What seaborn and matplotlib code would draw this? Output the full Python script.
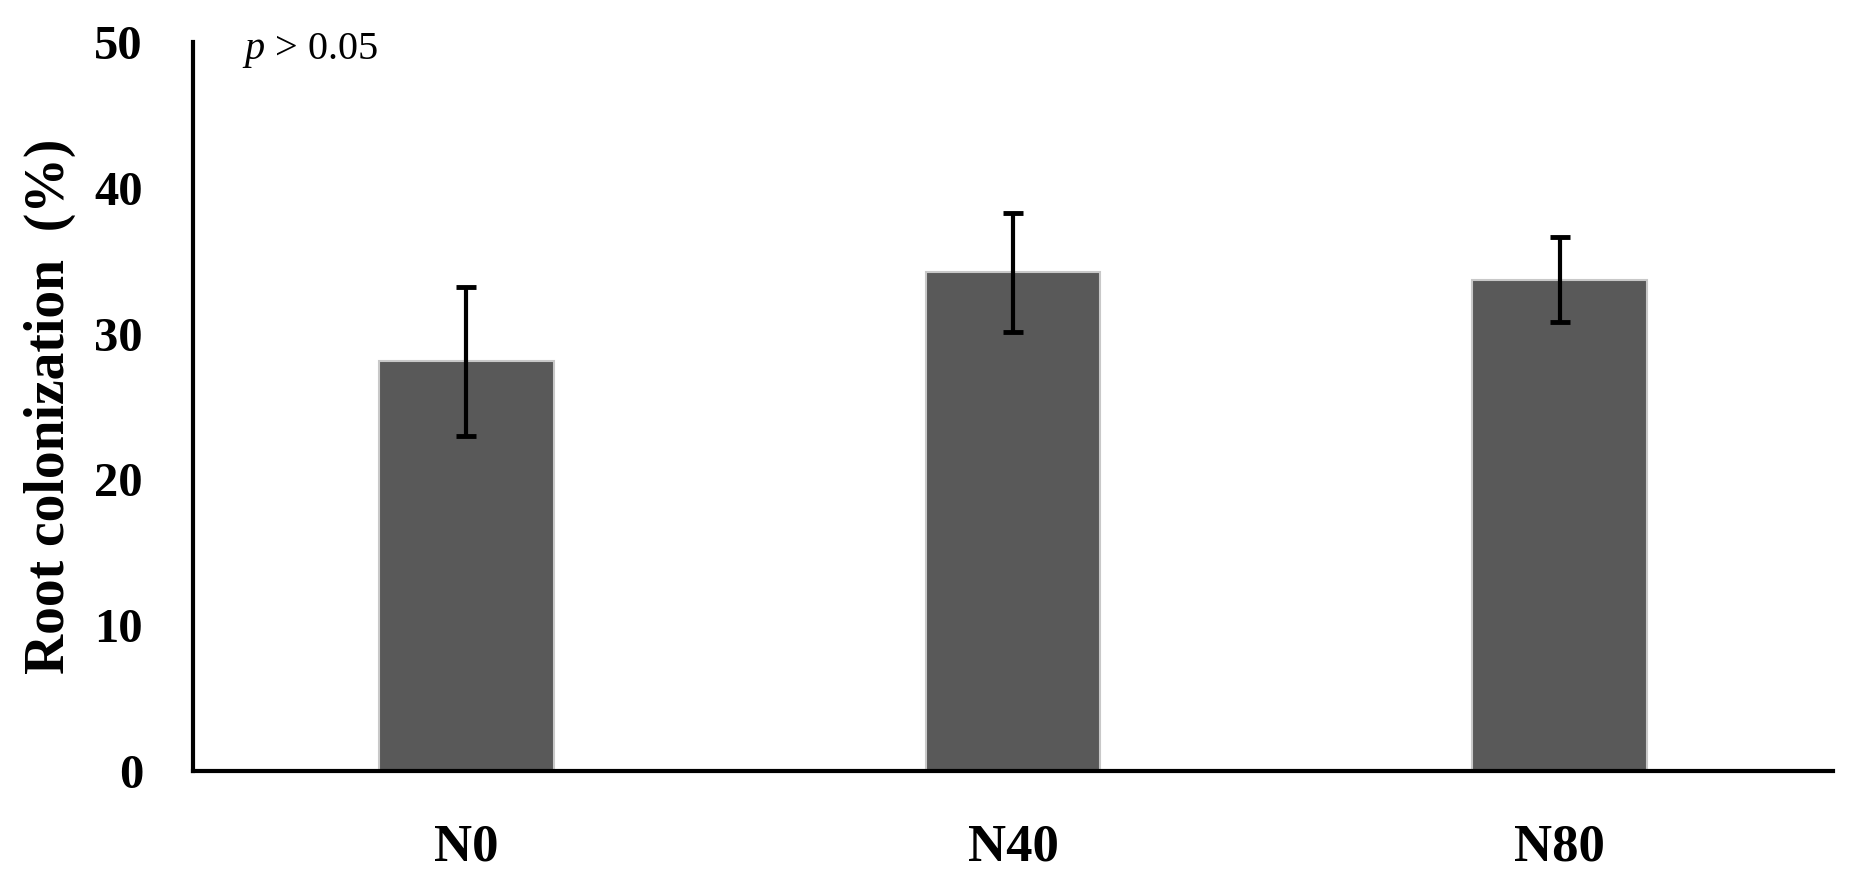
"""
Root colonization by N treatment, bar chart with SE bars.
"""

import pandas as pd
import matplotlib
matplotlib.use("Agg")
import matplotlib.pyplot as plt
import seaborn as sns

treatments = ["N0", "N40", "N80"]
colonization = [28.1, 34.2, 33.7]
colonization_err = [5.1, 4.1, 2.9]
y_ticks = [0, 10, 20, 30, 40, 50]

sns.set_theme(style="white")
plt.rcParams["font.family"] = ["Liberation Serif", "DejaVu Serif"]
plt.rcParams["text.color"] = "black"
plt.rcParams["axes.labelcolor"] = "black"
plt.rcParams["xtick.color"] = "black"
plt.rcParams["ytick.color"] = "black"
plt.rcParams["mathtext.fontset"] = "custom"
plt.rcParams["mathtext.it"] = "Liberation Serif:italic"
plt.rcParams["mathtext.rm"] = "Liberation Serif"

df = pd.DataFrame({"Treatment": treatments, "Colonization": colonization})

fig = plt.figure(figsize=(18.6, 8.81), dpi=100)
ax = fig.add_axes([193 / 1860, 1 - 771 / 881, (1833 - 193) / 1860, (771 - 42) / 881])

sns.barplot(data=df, x="Treatment", y="Colonization", order=treatments,
            color="#595959", saturation=1, width=0.32, errorbar=None,
            edgecolor="#c8c8c8", linewidth=1.5, ax=ax)
ax.errorbar(treatments, colonization, yerr=colonization_err, fmt="none",
            ecolor="black", elinewidth=3, capsize=7, capthick=3.5, zorder=5)

ax.set_xlim(-0.5, 2.5)
ax.set_ylim(0, 50)
ax.set_yticks(y_ticks)
ax.set_yticklabels([str(t) for t in y_ticks])
ax.tick_params(axis="both", length=0)
ax.tick_params(axis="y", pad=36, labelsize=35)
ax.tick_params(axis="x", pad=38, labelsize=38)
for lab in ax.get_xticklabels() + ax.get_yticklabels():
    lab.set_fontweight("bold")

ax.set_xlabel("")
ax.set_ylabel("Root colonization  (%)", fontsize=40, fontweight="bold", labelpad=13)

ax.spines[["top", "right"]].set_visible(False)
for side in ["left", "bottom"]:
    ax.spines[side].set_linewidth(3)
    ax.spines[side].set_color("black")

ax.text(-0.41, 48.8, "$p$ > 0.05", fontsize=29, va="baseline", ha="left")

fig.savefig("out.png", dpi=100)
plt.close(fig)
